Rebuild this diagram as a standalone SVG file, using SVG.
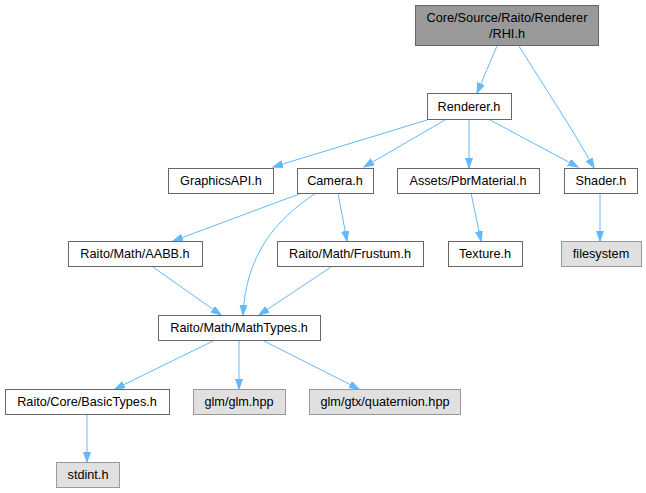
<svg xmlns="http://www.w3.org/2000/svg" width="646" height="493" viewBox="0 0 646 493">
<style>
.n rect{fill:#ffffff;stroke:#666666;stroke-width:1}
.g rect{fill:#e0e0e0;stroke:#999999;stroke-width:1}
.r rect{fill:#999999;stroke:#666666;stroke-width:1}
text{font-family:"Liberation Sans",Arial,sans-serif;font-size:12.7px;fill:#000;text-anchor:middle}
#edges path{fill:none;stroke:#63b8ff;stroke-width:1;marker-end:url(#ah)}
</style>
<defs>
<marker id="ah" markerUnits="userSpaceOnUse" markerWidth="11" markerHeight="8" refX="10" refY="3.5" orient="auto">
<path d="M0,0 L10,3.5 L0,7 z" fill="#63b8ff" stroke="#63b8ff"/>
</marker>
</defs>
<rect width="646" height="493" fill="#ffffff"/>
<g id="edges">
<path d="M497,46 L477,93"/>
<path d="M519,46 C545,88 572,128 594,168"/>
<path d="M427,120 L273,167"/>
<path d="M445,120 L364,167"/>
<path d="M469,120 L469,168"/>
<path d="M490,120 L578,167"/>
<path d="M600,193 L600,241"/>
<path d="M471,193 L481,241"/>
<path d="M302,193 L173,241"/>
<path d="M316,193 C275,220 246,255 243,315"/>
<path d="M338,193 L347,241"/>
<path d="M153,267 L221,315"/>
<path d="M331,267 L259,315"/>
<path d="M213,341 L115,389"/>
<path d="M239,341 L239,389"/>
<path d="M264,341 L359,389"/>
<path d="M87,414 L87,462"/>
</g>
<g id="rhi" class="r"><rect x="415.5" y="5.5" width="183" height="40"/><text x="507" y="22">Core/Source/Raito/Renderer</text><text x="507" y="38">/RHI.h</text></g>
<g id="renderer" class="n"><rect x="427.5" y="93.5" width="84" height="26"/><text x="469" y="110.5">Renderer.h</text></g>
<g id="graphicsapi" class="n"><rect x="168.5" y="168.5" width="105" height="25"/><text x="221" y="185">GraphicsAPI.h</text></g>
<g id="camera" class="n"><rect x="297.5" y="168.5" width="76" height="25"/><text x="335" y="185">Camera.h</text></g>
<g id="pbrmaterial" class="n"><rect x="397.5" y="168.5" width="142" height="25"/><text x="468" y="185">Assets/PbrMaterial.h</text></g>
<g id="shader" class="n"><rect x="564.5" y="168.5" width="73" height="25"/><text x="601" y="185">Shader.h</text></g>
<g id="aabb" class="n"><rect x="68.5" y="241.5" width="134" height="25"/><text x="135" y="258">Raito/Math/AABB.h</text></g>
<g id="frustum" class="n"><rect x="277.5" y="241.5" width="146" height="25"/><text x="350" y="258">Raito/Math/Frustum.h</text></g>
<g id="texture" class="n"><rect x="448.5" y="241.5" width="74" height="25"/><text x="485" y="258">Texture.h</text></g>
<g id="filesystem" class="g"><rect x="561.5" y="241.5" width="80" height="25"/><text x="601" y="258">filesystem</text></g>
<g id="mathtypes" class="n"><rect x="158.5" y="315.5" width="162" height="25"/><text x="239" y="332">Raito/Math/MathTypes.h</text></g>
<g id="basictypes" class="n"><rect x="5.5" y="389.5" width="164" height="25"/><text x="87" y="406">Raito/Core/BasicTypes.h</text></g>
<g id="glm" class="g"><rect x="193.5" y="389.5" width="92" height="25"/><text x="239" y="406">glm/glm.hpp</text></g>
<g id="quaternion" class="g"><rect x="309.5" y="389.5" width="151" height="25"/><text x="385" y="406">glm/gtx/quaternion.hpp</text></g>
<g id="stdint" class="g"><rect x="56.5" y="462.5" width="63" height="25"/><text x="88" y="479">stdint.h</text></g>
</svg>
